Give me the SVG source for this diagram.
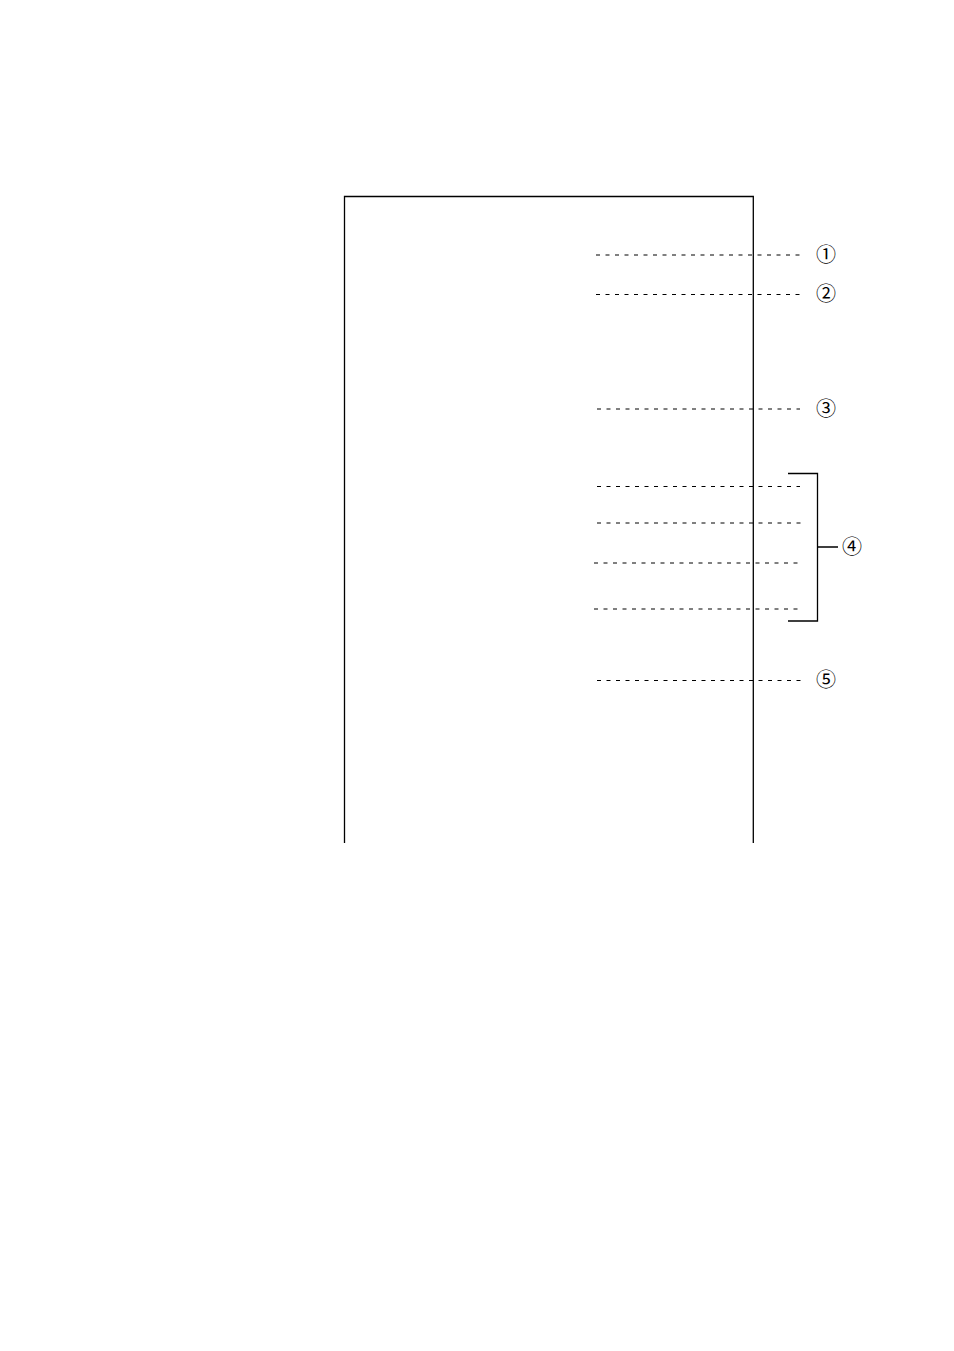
<svg xmlns="http://www.w3.org/2000/svg" width="954" height="1351" viewBox="0 0 954 1351">
<style>
.frame{fill:none;stroke:#000;stroke-width:1.3}
.dash{fill:none;stroke:#000;stroke-width:1;stroke-dasharray:4 5.5}
.br{fill:none;stroke:#000;stroke-width:1.3}
.lbl{font-family:"Noto Sans CJK JP","DejaVu Sans",sans-serif;font-size:20px;fill:#000;text-anchor:middle;dominant-baseline:central}
</style>
<rect width="954" height="1351" fill="#fff"/>
<g id="frame">
<path class="frame" d="M344.5,843 V196.5 H753.3 V843"/>
</g>
<g id="connectors">
<line class="dash" x1="596" y1="255" x2="800" y2="255"/>
<line class="dash" x1="596" y1="294.5" x2="800" y2="294.5"/>
<line class="dash" x1="597" y1="409" x2="800" y2="409"/>
<line class="dash" x1="597" y1="486.5" x2="800" y2="486.5"/>
<line class="dash" x1="597" y1="523" x2="802" y2="523"/>
<line class="dash" x1="594" y1="563" x2="799" y2="563"/>
<line class="dash" x1="594" y1="609" x2="799" y2="609"/>
<line class="dash" x1="597" y1="680.5" x2="802" y2="680.5"/>
<path class="br" d="M788,473.5 H817.5 V621 H788 M817.5,547 H838"/>
</g>
<g id="label1"><text class="lbl" x="826" y="253">①</text></g>
<g id="label2"><text class="lbl" x="826" y="292.5">②</text></g>
<g id="label3"><text class="lbl" x="826" y="407">③</text></g>
<g id="label4"><text class="lbl" x="852" y="545.5">④</text></g>
<g id="label5"><text class="lbl" x="826" y="678">⑤</text></g>
</svg>
